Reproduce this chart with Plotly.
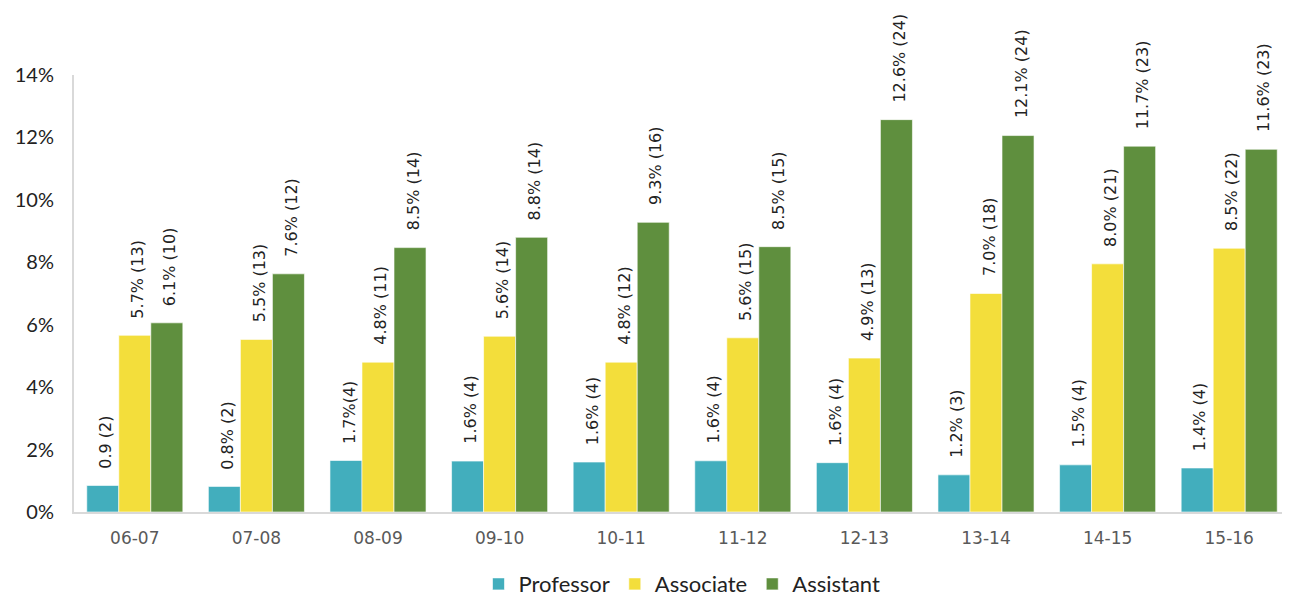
import plotly.graph_objects as go

categories = ["06-07", "07-08", "08-09", "09-10", "10-11", "11-12", "12-13", "13-14", "14-15", "15-16"]
professor = [0.0085, 0.0082, 0.0165, 0.0163, 0.0160, 0.0164, 0.0158, 0.0119, 0.0151, 0.0141]
associate = [0.0566, 0.0553, 0.0480, 0.0563, 0.0480, 0.0558, 0.0493, 0.0700, 0.0795, 0.0845]
assistant = [0.0606, 0.0763, 0.0847, 0.0880, 0.0928, 0.0850, 0.1257, 0.1206, 0.1172, 0.1162]
professor_labels = ["0.9 (2)", "0.8% (2)", "1.7%(4)", "1.6% (4)", "1.6% (4)", "1.6% (4)", "1.6% (4)", "1.2% (3)", "1.5% (4)", "1.4% (4)"]
associate_labels = ["5.7% (13)", "5.5% (13)", "4.8% (11)", "5.6% (14)", "4.8% (12)", "5.6% (15)", "4.9% (13)", "7.0% (18)", "8.0% (21)", "8.5% (22)"]
assistant_labels = ["6.1% (10)", "7.6% (12)", "8.5% (14)", "8.8% (14)", "9.3% (16)", "8.5% (15)", "12.6% (24)", "12.1% (24)", "11.7% (23)", "11.6% (23)"]
series_names = ["Professor", "Associate", "Assistant"]
colors = ["#42AEBD", "#F3DE3B", "#5F8F3E"]

# page body has an 8px margin, so the figure is sized to fit the window
W, H = 1282, 593
ML, MR, MT, MB = 66, 0, 67, 89
BARGAP = 0.21

fig = go.Figure()
all_vals = [professor, associate, assistant]
all_labels = [professor_labels, associate_labels, assistant_labels]
for name, vals, col in zip(series_names, all_vals, colors):
    fig.add_trace(go.Bar(
        x=categories, y=vals, name=name,
        marker=dict(color=col, line=dict(color="rgba(255,255,255,0.6)", width=1)),
        cliponaxis=False,
    ))

# value labels as rotated annotations above each bar
cat_px = (W - ML - MR) / len(categories)
bar_px = cat_px * (1 - BARGAP) / 3
for i, (vals, labels) in enumerate(zip(all_vals, all_labels)):
    offset = (i - 1) * bar_px
    for c, v, t in zip(categories, vals, labels):
        fig.add_annotation(
            x=c, y=v, xref="x", yref="y", text=t, showarrow=False,
            textangle=-90, xanchor="center", yanchor="bottom",
            xshift=offset + 3, yshift=15,
            font=dict(family="DejaVu Sans", size=16, color="#222222"),
        )

fig.update_layout(
    width=W, height=H,
    margin=dict(l=ML, r=MR, t=MT, b=MB, autoexpand=False),
    paper_bgcolor="white", plot_bgcolor="white",
    barmode="group", bargap=BARGAP, bargroupgap=0,
    showlegend=True,
    legend=dict(orientation="h", x=0.5, xanchor="center", y=-0.165, yanchor="middle",
                font=dict(family="Lato", size=22, color="#222222"),
                itemwidth=30, traceorder="normal"),
    font=dict(family="Lato"),
)
fig.update_yaxes(range=[0, 0.14], tickvals=[0, 0.02, 0.04, 0.06, 0.08, 0.10, 0.12, 0.14],
                 tickformat=".0%", showgrid=False, zeroline=False, automargin=False,
                 showline=True, linecolor="#D9D9D9", linewidth=2,
                 tickfont=dict(family="Lato", size=20, color="#222222"), ticks="",
                 ticklabelstandoff=14)
fig.update_xaxes(type="category", showgrid=False, showline=True, linecolor="#D9D9D9", linewidth=2,
                 automargin=False,
                 tickfont=dict(family="DejaVu Sans", size=17, color="#595959"), ticks="",
                 ticklabelstandoff=10)

fig.write_html("out.html")
